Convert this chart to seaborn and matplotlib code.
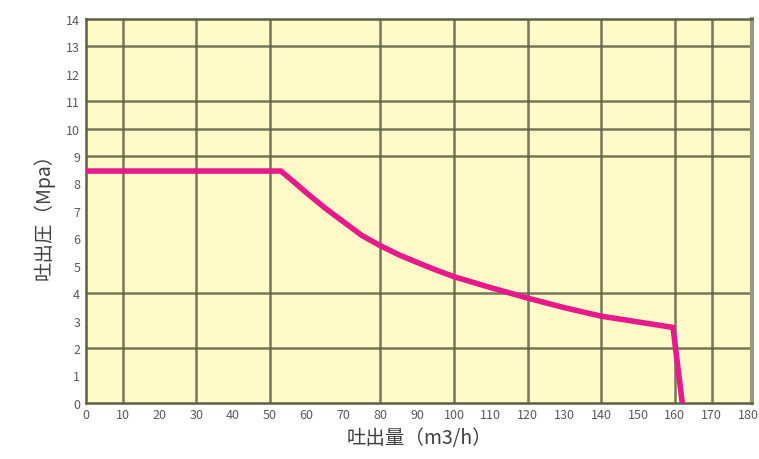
import matplotlib
matplotlib.use("Agg")
import matplotlib.pyplot as plt
import seaborn as sns
import pandas as pd

# data
flow = [0, 53, 57, 60, 65, 70, 75, 80, 85, 90, 95, 100, 110, 120, 130, 140, 150, 159.5, 162]
pressure = [8.45, 8.45, 8.0, 7.65, 7.1, 6.6, 6.1, 5.73, 5.4, 5.12, 4.85, 4.6, 4.2, 3.82, 3.47, 3.16, 2.95, 2.75, 0]
x_ticks = list(range(0, 181, 10))
y_ticks = list(range(0, 15))
x_grid = [10, 30, 50, 80, 100, 120, 140, 160, 170]
y_grid = [2, 4, 9, 10, 11, 13]
x_label = "吐出量（m3/h）"
y_label = "吐出圧（Mpa）"

sns.set_style("white")
plt.rcParams['font.family'] = ['Noto Sans CJK JP', 'DejaVu Sans']

df = pd.DataFrame({"flow": flow, "pressure": pressure})

fig = plt.figure(figsize=(7.59, 4.6), dpi=100)
ax = fig.add_axes([0.113, 0.122, 0.878, 0.835])
ax.set_facecolor("#FFFBC9")

grid_color = "#5f5f45"
for gx in x_grid:
    ax.axvline(gx, color=grid_color, linewidth=1.8, alpha=0.85, zorder=1)
for gy in y_grid:
    ax.axhline(gy, color=grid_color, linewidth=1.8, alpha=0.85, zorder=1)

sns.lineplot(data=df, x="flow", y="pressure", ax=ax, color="#E8198B",
             linewidth=4, sort=False, zorder=3)

ax.set_xticks(x_ticks)
ax.set_yticks(y_ticks)
ax.tick_params(which="both", length=0)
ax.tick_params(axis="both", which="major", labelsize=9, labelcolor="#5a5a5a", pad=4)
ax.set_xlim(0, 181)
ax.set_ylim(0, 14)

for s in ax.spines.values():
    s.set_color(grid_color)
    s.set_linewidth(1.8)
ax.spines["right"].set_color("#9a9a80")
ax.spines["right"].set_linewidth(3)

ax.set_xlabel(x_label, fontsize=14, color="#404040", labelpad=4)
ax.set_ylabel(y_label, fontsize=14, color="#404040", labelpad=8)

fig.savefig("out.png", dpi=100)
